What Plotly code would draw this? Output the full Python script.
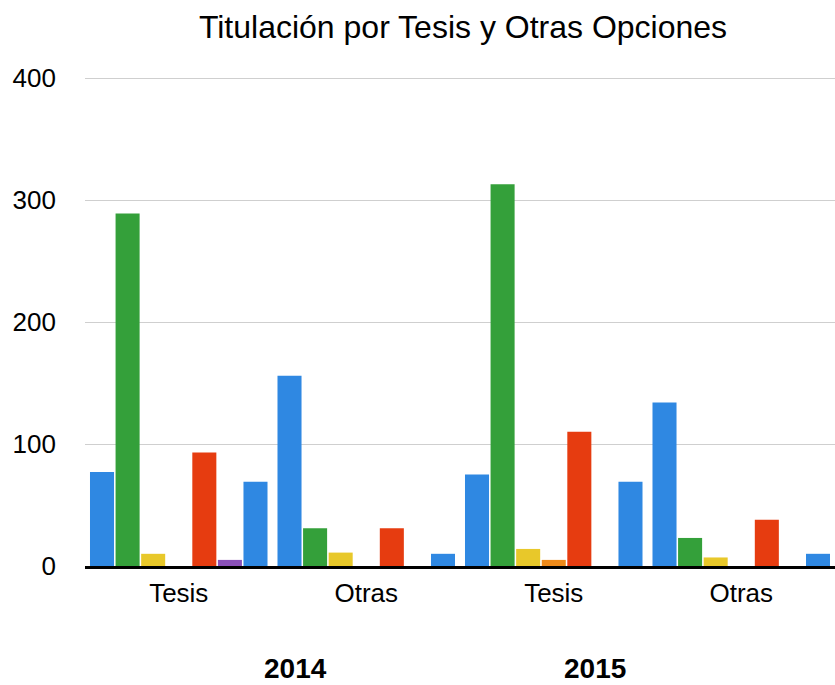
import plotly.graph_objects as go

group_positions = [0, 1, 2, 3]
group_labels = ["Tesis", "Otras", "Tesis", "Otras"]
years = ["2014", "2015"]
year_positions = [0.62, 2.22]

serie_1 = [77, 156, 75, 134]
serie_2 = [289, 31, 313, 23]
serie_3 = [10, 11, 14, 7]
serie_4 = [0, 0, 5, 0]
serie_5 = [93, 31, 110, 38]
serie_6 = [5, 0, 0, 0]
serie_7 = [69, 10, 69, 10]

series = [
    ("Serie 1", serie_1, "#2f88e2"),
    ("Serie 2", serie_2, "#34a03a"),
    ("Serie 3", serie_3, "#e8c82a"),
    ("Serie 4", serie_4, "#ee8a1a"),
    ("Serie 5", serie_5, "#e63c10"),
    ("Serie 6", serie_6, "#8a50b8"),
    ("Serie 7", serie_7, "#2f88e2"),
]

fig = go.Figure()
for name, vals, col in series:
    fig.add_trace(go.Bar(x=group_positions, y=vals, name=name,
                         marker=dict(color=col, line=dict(width=0))))

font_family = "Liberation Sans, Arial, Helvetica, sans-serif"

plot_top, plot_bottom = 77, 566
annotations = []
for yr, xp in zip(years, year_positions):
    annotations.append(dict(x=xp, y=-(668 - plot_bottom) / (plot_bottom - plot_top),
                            xref="x", yref="paper", text="<b>" + yr + "</b>",
                            showarrow=False, font=dict(size=28, color="black", family=font_family),
                            xanchor="center", yanchor="middle"))

fig.update_layout(
    width=835, height=685,
    margin=dict(l=85, r=0, t=plot_top, b=685 - plot_bottom, autoexpand=False),
    paper_bgcolor="white", plot_bgcolor="white",
    barmode="group", bargap=0.045, bargroupgap=0.06,
    showlegend=False,
    font=dict(family=font_family, color="black"),
    title=dict(text="Titulación por Tesis y Otras Opciones", x=463 / 835, xanchor="center",
               y=1 - 27 / 685, yanchor="middle", yref="container", xref="container",
               font=dict(size=32, color="black", family=font_family)),
    xaxis=dict(tickmode="array", tickvals=group_positions, ticktext=group_labels,
               range=[-0.5, 3.5], showgrid=False, zeroline=False,
               showline=True, linecolor="black", linewidth=3,
               ticks="", ticklabelstandoff=2,
               tickfont=dict(size=26, color="black")),
    yaxis=dict(range=[0, 401], tickvals=[0, 100, 200, 300, 400],
               showgrid=True, gridcolor="#cfcfcf", gridwidth=1,
               zeroline=False, showline=False, ticks="",
               ticklabelstandoff=28,
               tickfont=dict(size=26, color="black")),
    annotations=annotations,
)

fig.write_html("out.html", config={"displayModeBar": False},
               post_script="document.body.style.margin='0';document.body.style.overflow='hidden';")
